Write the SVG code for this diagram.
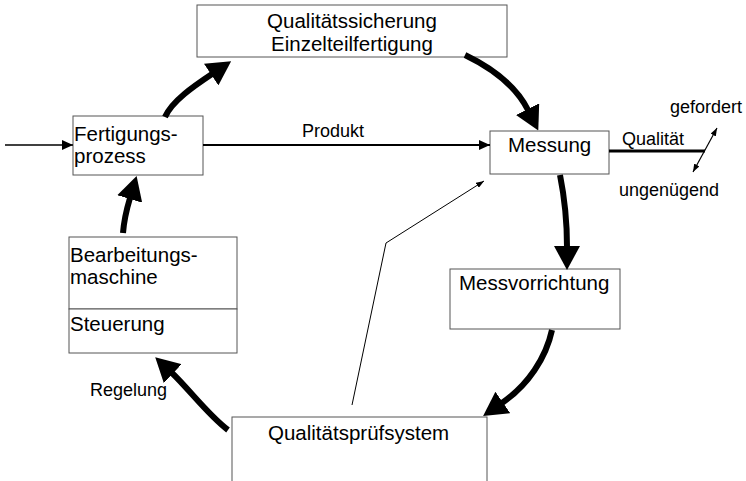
<svg xmlns="http://www.w3.org/2000/svg" width="746" height="481" viewBox="0 0 746 481">
<style>
.box{fill:#fff;stroke:#555;stroke-width:1}
.lbl{font-family:"Liberation Sans",Arial,sans-serif;font-size:20.5px;fill:#000}
.sm{font-family:"Liberation Sans",Arial,sans-serif;font-size:18px;fill:#000}
.thick{fill:none;stroke:#000;stroke-width:6;marker-end:url(#big)}
.thin{fill:none;stroke:#000}
</style>
<defs>
<marker id="big" markerUnits="userSpaceOnUse" markerWidth="24" markerHeight="26" refX="1" refY="13" orient="auto" viewBox="0 0 24 26"><path d="M0,0 L24,13 L0,26 Z" fill="#000"/></marker>
<marker id="sm" markerUnits="userSpaceOnUse" markerWidth="11" markerHeight="10" refX="11" refY="5" orient="auto" viewBox="0 0 11 10"><path d="M0,0 L11,5 L0,10 Z" fill="#000"/></marker>
<marker id="tiny" markerUnits="userSpaceOnUse" markerWidth="8" markerHeight="6" refX="8" refY="3" orient="auto-start-reverse" viewBox="0 0 8 6"><path d="M0,0 L8,3 L0,6 Z" fill="#000"/></marker>
</defs>
<g id="qs">
<rect class="box" x="197" y="5" width="310" height="52"/>
<text class="lbl" x="352" y="28" text-anchor="middle">Qualitätssicherung</text>
<text class="lbl" x="352" y="51" text-anchor="middle">Einzelteilfertigung</text>
</g>
<g id="fertigung">
<rect class="box" x="73" y="116" width="130" height="59"/>
<text class="lbl" x="74" y="141">Fertigungs-</text>
<text class="lbl" x="74" y="163">prozess</text>
</g>
<g id="messung">
<rect class="box" x="490" y="131" width="119" height="43"/>
<text class="lbl" x="508" y="152">Messung</text>
</g>
<g id="maschine">
<rect class="box" x="69" y="237" width="168" height="72"/>
<text class="lbl" x="70" y="262">Bearbeitungs-</text>
<text class="lbl" x="70" y="284">maschine</text>
</g>
<g id="steuerung">
<rect class="box" x="69" y="309" width="168" height="44"/>
<text class="lbl" x="70" y="331">Steuerung</text>
</g>
<g id="messvorrichtung">
<rect class="box" x="450" y="269" width="170" height="60"/>
<text class="lbl" x="459" y="290">Messvorrichtung</text>
</g>
<g id="pruefsystem">
<rect class="box" x="232" y="417" width="255" height="70"/>
<text class="lbl" x="268" y="440">Qualitätsprüfsystem</text>
</g>
<g id="connectors">
<path class="thin" d="M5,145 L73,145" stroke-width="1.6" marker-end="url(#sm)"/>
<path class="thin" d="M203,145 L490,145" stroke-width="2" marker-end="url(#sm)"/>
<path class="thin" d="M352,405 L386,243 L484,181" stroke-width="1" marker-end="url(#tiny)"/>
<path class="thin" d="M609,151 L705,151" stroke-width="3"/>
<path class="thin" d="M693,172 L717,128" stroke-width="1.2" marker-start="url(#tiny)" marker-end="url(#tiny)"/>
<path class="thick" d="M165,117 C172,101 194,86 212,74"/>
<path class="thick" d="M465,55 C492,68 516,86 528,110"/>
<path class="thick" d="M560,175 C565,200 567,225 567,247"/>
<path class="thick" d="M552,330 C546,358 528,385 502,403"/>
<path class="thick" d="M228,430 C208,415 188,388 172,373"/>
<path class="thick" d="M123,233 C124,220 127,208 130,198"/>
<text class="sm" x="302" y="137">Produkt</text>
<text class="sm" x="622" y="145">Qualität</text>
<text class="sm" x="670" y="113">gefordert</text>
<text class="sm" x="619" y="196">ungenügend</text>
<text class="sm" x="90" y="396">Regelung</text>
</g>
</svg>
